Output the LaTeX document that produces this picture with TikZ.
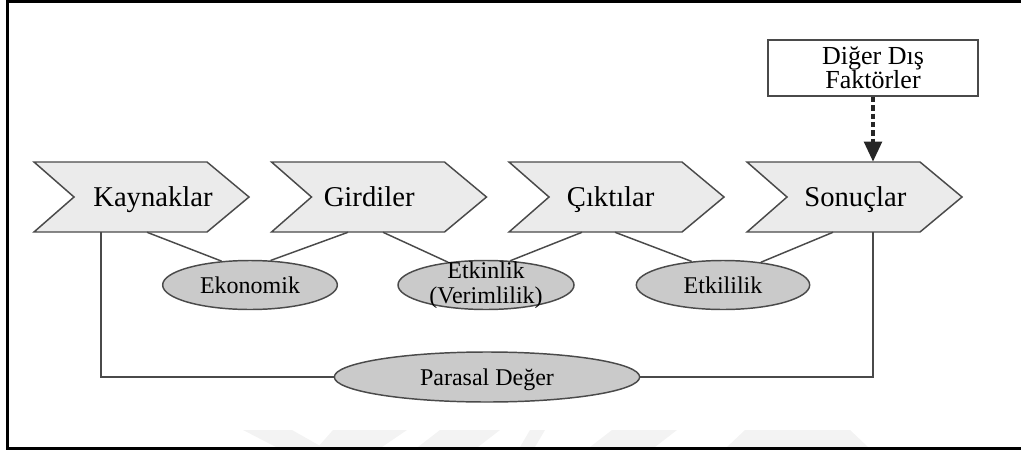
\documentclass[tikz,border=0pt]{standalone}
\usepackage{fontspec}
\setmainfont{Liberation Serif}
\usetikzlibrary{shapes.geometric,arrows.meta,calc}
\definecolor{chevfill}{HTML}{EBEBEB}
\definecolor{ellfill}{HTML}{CACACA}
\definecolor{edgegray}{HTML}{4A4A4A}
\definecolor{wmark}{HTML}{F3F3F3}
\begin{document}
\begin{tikzpicture}[x=0.75pt,y=-0.75pt,
  chev/.style={minimum width=162pt,minimum height=52.5pt,inner sep=0pt},
  chevtext/.style={font=\fontsize{21.5}{25}\selectfont,inner sep=0pt,text height=16pt,text depth=2.5pt},
  chevshape/.style={draw=edgegray,fill=chevfill,line width=1.1pt,line join=miter},
  ell/.style={ellipse,draw=edgegray,fill=ellfill,line width=1.1pt,inner sep=0pt,minimum height=36.75pt},
  elltext/.style={font=\fontsize{18}{18.75}\selectfont,align=center,inner sep=0pt},
  ellbase/.style={elltext,text height=15pt,text depth=3pt},
  conn/.style={draw=edgegray,line width=1.1pt},
  factbox/.style={draw=edgegray,line width=1.3pt,minimum width=157.5pt,minimum height=42pt,
     align=center,inner sep=0pt,font=\fontsize{19.5}{18}\selectfont},
  dasharrow/.style={draw=black!85,line width=3pt,dash pattern=on 4pt off 2.25pt,
     -{Triangle[length=15pt,width=13pt,fill=black!85]}},
  frame/.style={draw=black,line width=2pt},
  wm/.style={fill=wmark,draw=none}]
\useasboundingbox (0,0) rectangle (1021,450);

% faint watermark at the bottom
\fill[wm] (243,430) -- (292,430) -- (322,447) -- (276,447) -- cycle;
\fill[wm] (333,430) -- (407,430) -- (382,447) -- (318,447) -- cycle;
\fill[wm] (440,430) -- (500,430) -- (478,447) -- (418,447) -- cycle;
\fill[wm] (530,430) -- (545,430) -- (535,447) -- (520,447) -- cycle;
\fill[wm] (612,430) -- (677,430) -- (655,447) -- (590,447) -- cycle;
\fill[wm] (745,430) -- (850,430) -- (868,447) -- (727,447) -- cycle;

% frame
\draw[frame] (1021,1.5) -- (7.5,1.5) -- (7.5,448.5) -- (1021,448.5);

% chevron shapes
\foreach \x in {141,378.5,616,854}{
  \draw[chevshape] ({\x-107},162) -- ({\x+66},162) -- ({\x+108},197) -- ({\x+66},232)
     -- ({\x-107},232) -- ({\x-67},197) -- cycle;
}
\node[chev,label={[chevtext,xshift=9pt]center:Kaynaklar}] (kay) at (141,197) {};
\node[chev,label={[chevtext,xshift=-7pt]center:Girdiler}] (gir) at (378.5,197) {};
\node[chev,label={[chevtext,xshift=-4pt]center:Çıktılar}] (cik) at (616,197) {};
\node[chev,label={[chevtext,xshift=1pt]center:Sonuçlar}] (son) at (854,197) {};

% ellipses
\node[ell,minimum width=131pt,label={[ellbase]center:Ekonomik}] (eko) at (250,285) {};
\node[ell,minimum width=132pt,label={[elltext]center:{Etkinlik\\(Verimlilik)}}] (etk) at (486,285) {};
\node[ell,minimum width=130pt,label={[ellbase]center:Etkililik}] (etl) at (723,285) {};
\node[ell,minimum width=229pt,minimum height=37.5pt,label={[ellbase]center:Parasal Değer}] (par) at (487,377) {};

% external factors box
\node[factbox] (fact) at (873,68) {Diğer Dış\\Faktörler};

% connectors
\draw[conn] ($(kay.south)+(6,0)$) -- (eko.140);
\draw[conn] ($(gir.south)+(-30.5,0)$) -- (eko.50);
\draw[conn] ($(gir.south)+(4.5,0)$) -- (etk.149);
\draw[conn] ($(cik.south)+(-34,0)$) -- (etk.45);
\draw[conn] ($(cik.south)+(-1,0)$) -- (etl.143);
\draw[conn] ($(son.south)+(-21,0)$) -- (etl.31);
\draw[conn] ($(kay.south)+(-40,0)$) |- (par.west);
\draw[conn] (son.south -| fact.south) |- (par.east);

\draw[dasharrow] (fact.south) -- (fact.south |- son.north);
\end{tikzpicture}
\end{document}
